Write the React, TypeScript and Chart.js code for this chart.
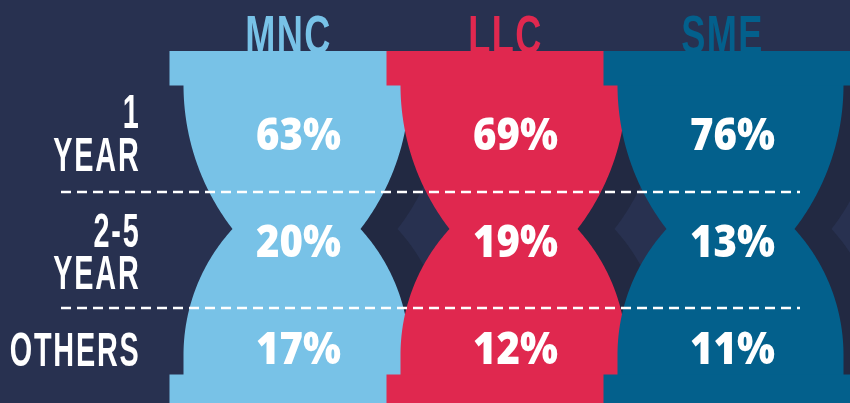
import React, { useEffect, useRef } from 'react';
import { Chart, registerables } from 'chart.js';

Chart.register(...registerables);

// ---- data ----
const companies = ['MNC', 'LLC', 'SME'];
const tenures = ['1 YEAR', '2-5 YEAR', 'OTHERS'];
const tenureLines = [['1', 'YEAR'], ['2-5', 'YEAR'], ['OTHERS']];
const oneYear = [63, 69, 76];
const twoToFiveYears = [20, 19, 13];
const otherTenure = [17, 12, 11];
const companyColors = ['#78C2E7', '#E0284F', '#03608C'];

const seriesByTenure = [oneYear, twoToFiveYears, otherTenure];

// ---- styles / layout ----
const BG = '#283150';
const SHADOW = '#222942';
const G = {
  capTop: 51,
  bodyTop: 85,
  waist: 229,
  lowerTangent: 355,
  bodyBottom: 375,
  capBottomEnd: 410,
  halfBody: 113,
  halfCap: 127,
  halfWaist: 64,
  shadowDx: 37,
  headerDx: -8,
  headerBaseline: 52.5,
  labelRight: 139,
  dashFrom: 61,
  dashTo: 800,
};
const LABEL_NUDGE = [-1.8, 10, 1.8];
const DASH_FRACTION = [0.54, 0.63];
const CONDENSED = '"Liberation Sans", "DejaVu Sans", sans-serif';

function offsetAt(y: number) {
  const a = G.halfBody - G.halfWaist;
  const R1 = (a * a + (G.waist - G.bodyTop) ** 2) / (2 * a);
  const R2 = (a * a + (G.lowerTangent - G.waist) ** 2) / (2 * a);
  if (y <= G.waist) {
    const d = y - G.bodyTop;
    return R1 - Math.sqrt(Math.max(0, R1 * R1 - d * d));
  }
  if (y <= G.lowerTangent) {
    const d = G.lowerTangent - y;
    return R2 - Math.sqrt(Math.max(0, R2 * R2 - d * d));
  }
  return 0;
}

function sampleYs() {
  const ys: number[] = [];
  const N = 60;
  for (let i = 0; i <= N; i++) ys.push(G.bodyTop + ((G.waist - G.bodyTop) * i) / N);
  for (let i = 1; i <= N; i++) ys.push(G.waist + ((G.lowerTangent - G.waist) * i) / N);
  ys.push(G.bodyBottom);
  return ys;
}

function bodyPath(ctx: CanvasRenderingContext2D, cx: number) {
  const ys = sampleYs();
  ctx.beginPath();
  ys.forEach((y, i) => {
    const x = cx - G.halfBody + offsetAt(y);
    if (i === 0) ctx.moveTo(x, y);
    else ctx.lineTo(x, y);
  });
  for (let i = ys.length - 1; i >= 0; i--) {
    const y = ys[i];
    ctx.lineTo(cx + G.halfBody - offsetAt(y), y);
  }
  ctx.closePath();
}

const infographicPlugin = {
  id: 'infographic',
  beforeDraw(chart: any) {
    const { ctx, width, height } = chart;
    ctx.save();
    ctx.fillStyle = BG;
    ctx.fillRect(0, 0, width, height);
    ctx.restore();
  },
  beforeDatasetsDraw(chart: any) {
    const ctx: CanvasRenderingContext2D = chart.ctx;
    const xs = chart.scales.x;
    ctx.save();
    companies.forEach((name, i) => {
      const cx = xs.getPixelForValue(i);
      const color = companyColors[i];
      // header
      ctx.save();
      ctx.fillStyle = color;
      ctx.font = 'bold 54px ' + CONDENSED;
      ctx.textAlign = 'center';
      ctx.textBaseline = 'alphabetic';
      ctx.translate(cx + G.headerDx, G.headerBaseline);
      ctx.scale(0.67, 1);
      (ctx as any).letterSpacing = '2px';
      ctx.fillText(name, 0, 0);
      ctx.restore();
      // shadow
      ctx.fillStyle = SHADOW;
      bodyPath(ctx, cx + G.shadowDx);
      ctx.fill();
      // body
      ctx.fillStyle = color;
      bodyPath(ctx, cx);
      ctx.fill();
      // caps
      ctx.fillRect(cx - G.halfCap, G.capTop, G.halfCap * 2, G.bodyTop - G.capTop + 0.5);
      ctx.fillRect(cx - G.halfCap, G.bodyBottom - 0.5, G.halfCap * 2, G.capBottomEnd - G.bodyBottom);
    });

    // dashed separators
    const ys = chart.scales.y;
    ctx.strokeStyle = '#FFFFFF';
    ctx.lineWidth = 2.5;
    ctx.setLineDash([10, 6]);
    for (let r = 0; r < tenures.length - 1; r++) {
      const a = ys.getPixelForValue(r);
      const b = ys.getPixelForValue(r + 1);
      const y = Math.round(a + DASH_FRACTION[r] * (b - a));
      ctx.beginPath();
      ctx.moveTo(G.dashFrom, y);
      ctx.lineTo(G.dashTo, y);
      ctx.stroke();
    }
    ctx.setLineDash([]);

    // row labels
    ctx.fillStyle = '#FFFFFF';
    ctx.font = 'bold 48px ' + CONDENSED;
    ctx.textAlign = 'right';
    ctx.textBaseline = 'alphabetic';
    const capH = 34;
    const step = 42.5;
    tenureLines.forEach((lines, r) => {
      const c = ys.getPixelForValue(r) + LABEL_NUDGE[r];
      lines.forEach((txt, k) => {
        const base = c + capH / 2 + (k - (lines.length - 1) / 2) * step;
        ctx.save();
        ctx.translate(G.labelRight + 1.5, base);
        ctx.scale(0.6, 1);
        (ctx as any).letterSpacing = '3px';
        ctx.fillText(txt, 0, 0);
        ctx.restore();
      });
    });
    ctx.restore();
  },
  afterDatasetsDraw(chart: any) {
    const ctx: CanvasRenderingContext2D = chart.ctx;
    ctx.save();
    ctx.fillStyle = '#FFFFFF';
    ctx.font = '800 44px "Open Sans", "Inter", sans-serif';
    ctx.textAlign = 'center';
    ctx.textBaseline = 'alphabetic';
    chart.data.datasets.forEach((ds: any, r: number) => {
      const meta = chart.getDatasetMeta(r);
      meta.data.forEach((pt: any, i: number) => {
        const v = ds.data[i].v;
        ctx.save();
        ctx.translate(pt.x + 2, pt.y + 16);
        ctx.scale(0.91, 1);
        ctx.fillText(v + '%', 0, 0);
        ctx.restore();
      });
    });
    ctx.restore();
  },
};

export default function App() {
  const ref = useRef<HTMLCanvasElement | null>(null);
  useEffect(() => {
    if (!ref.current) return;
    const chart = new Chart(ref.current, {
      type: 'scatter',
      data: {
        datasets: tenures.map((t, r) => ({
          label: t,
          data: companies.map((c, i) => ({ x: c, y: t, v: seriesByTenure[r][i] })),
          pointRadius: 0,
          pointHoverRadius: 0,
          showLine: false,
        })),
      },
      options: {
        animation: false,
        responsive: false,
        maintainAspectRatio: false,
        devicePixelRatio: 1,
        events: [],
        layout: { padding: { left: 188, right: 11, top: 81, bottom: 2 } },
        plugins: { legend: { display: false }, tooltip: { enabled: false }, title: { display: false } },
        scales: {
          x: { type: 'category', labels: companies, offset: true, display: false },
          y: { type: 'category', labels: tenures, offset: true, display: false },
        },
      } as any,
      plugins: [infographicPlugin],
    });
    return () => chart.destroy();
  }, []);
  return (
    <div style={{ position: 'fixed', left: 0, top: 0, width: 850, height: 403, background: BG }}>
      <canvas ref={ref} width={850} height={403} style={{ display: 'block', width: 850, height: 403 }} />
    </div>
  );
}
